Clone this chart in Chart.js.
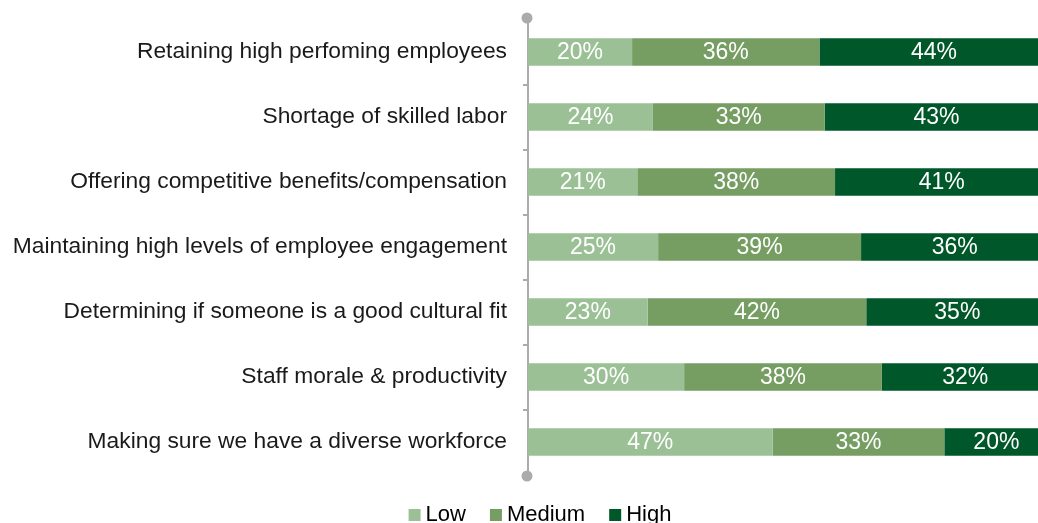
<!DOCTYPE html>
<html>
<head>
<meta charset="utf-8">
<script src="https://cdn.jsdelivr.net/npm/chart.js@4/dist/chart.umd.min.js"></script>
<style>
  html, body { margin: 0; padding: 0; background: #fff; }
  #wrap { width: 1038px; height: 523px; position: relative; }
</style>
</head>
<body>
<div id="wrap"><canvas id="challengeChart"></canvas></div>
<script>
// survey challenges, share of Low / Medium / High answers (%)
var categories = [
    'Retaining high perfoming employees',
    'Shortage of skilled labor',
    'Offering competitive benefits/compensation',
    'Maintaining high levels of employee engagement',
    'Determining if someone is a good cultural fit',
    'Staff morale & productivity',
    'Making sure we have a diverse workforce'
];
var seriesNames = ['Low', 'Medium', 'High'];
var lowValues = [20, 24, 21, 25, 23, 30, 47];
var mediumValues = [36, 33, 38, 39, 42, 38, 33];
var highValues = [44, 43, 41, 36, 35, 32, 20];

var FONT = "'Liberation Sans', Arial, sans-serif";
var AXIS_GREY = '#ababab';

// white % text in the middle of each segment
var barLabels = {
    id: 'barLabels',
    afterDatasetsDraw: function(chart) {
        var ctx = chart.ctx;
        ctx.save();
        ctx.fillStyle = '#ffffff';
        ctx.font = '23px ' + FONT;
        ctx.textAlign = 'center';
        ctx.textBaseline = 'middle';
        chart.data.datasets.forEach(function(ds, i) {
            chart.getDatasetMeta(i).data.forEach(function(bar, j) {
                ctx.fillText(ds.data[j] + '%', (bar.x + bar.base) / 2, bar.y + 1);
            });
        });
        ctx.restore();
    }
};

// round caps on both ends of the category axis
var axisDots = {
    id: 'axisDots',
    afterDraw: function(chart) {
        var ctx = chart.ctx;
        var x = chart.chartArea.left - 1;
        ctx.save();
        ctx.fillStyle = AXIS_GREY;
        [chart.chartArea.top - 1.5, chart.chartArea.bottom + 1.5].forEach(function(y) {
            ctx.beginPath();
            ctx.arc(x, y, 5.5, 0, Math.PI * 2);
            ctx.fill();
        });
        ctx.restore();
    }
};

// compact legend under the plot
var bottomLegend = {
    id: 'bottomLegend',
    afterDraw: function(chart) {
        var ctx = chart.ctx;
        var box = 12, gap = 5, spacing = 24;
        ctx.save();
        ctx.font = '22px ' + FONT;
        var items = chart.data.datasets.map(function(ds) {
            return { text: ds.label, color: ds.backgroundColor, w: ctx.measureText(ds.label).width };
        });
        var total = items.reduce(function(s, it) { return s + box + gap + it.w; }, 0) + spacing * (items.length - 1);
        var x = chart.width / 2 + 21 - total / 2;
        var baseline = chart.height - 2;
        ctx.textBaseline = 'alphabetic';
        ctx.textAlign = 'left';
        items.forEach(function(it) {
            ctx.fillStyle = it.color;
            ctx.fillRect(x, baseline - box, box, box);
            ctx.fillStyle = '#000000';
            ctx.fillText(it.text, x + box + gap, baseline);
            x += box + gap + it.w + spacing;
        });
        ctx.restore();
    }
};

var ctx = document.getElementById('challengeChart').getContext('2d');
var challengeChart = new Chart(ctx, {
    type: 'bar',
    data: {
        labels: categories,
        datasets: [
            { label: seriesNames[0], data: lowValues, backgroundColor: '#9bc096' },
            { label: seriesNames[1], data: mediumValues, backgroundColor: '#769e63' },
            { label: seriesNames[2], data: highValues, backgroundColor: '#00582a' }
        ]
    },
    options: {
        indexAxis: 'y',
        responsive: true,
        maintainAspectRatio: false,
        animation: false,
        datasets: {
            bar: {
                barPercentage: 0.42,
                categoryPercentage: 1,
                borderWidth: 0
            }
        },
        layout: {
            padding: { top: 19.5, right: 0, bottom: 48.5, left: 0 }
        },
        scales: {
            x: {
                stacked: true,
                min: 0,
                max: 98,
                display: false
            },
            y: {
                stacked: true,
                afterFit: function(scale) {
                    scale.width = 528;
                    scale.paddingTop = 0;
                    scale.paddingBottom = 0;
                },
                border: { color: AXIS_GREY, width: 2 },
                grid: {
                    drawOnChartArea: false,
                    tickLength: 5,
                    color: AXIS_GREY,
                    lineWidth: 2
                },
                ticks: {
                    padding: 16,
                    color: '#1a1a1a',
                    font: { family: FONT, size: 22.8 }
                }
            }
        },
        plugins: {
            legend: { display: false },
            tooltip: { enabled: false }
        }
    },
    plugins: [barLabels, axisDots, bottomLegend]
});
</script>
</body>
</html>
